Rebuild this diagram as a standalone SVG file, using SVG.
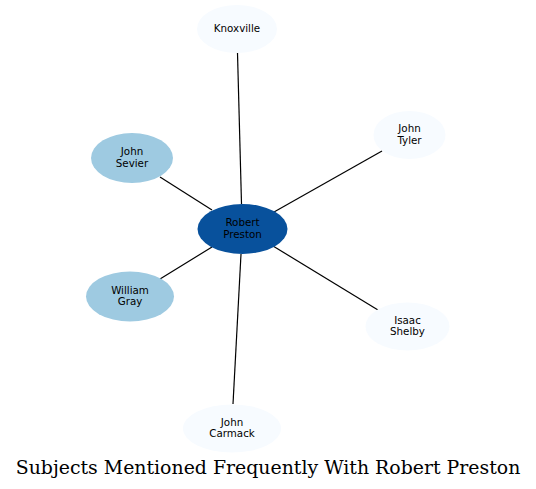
<svg xmlns="http://www.w3.org/2000/svg" width="536" height="489" viewBox="0 0 536 489">
<style>
.n text{font-family:"DejaVu Sans",sans-serif;font-size:10.3px;text-anchor:middle;fill:#000}
.light{fill:#f7fbff}
.mid{fill:#9ecae1}
.dark{fill:#08519c}
.e line{stroke:#000;stroke-width:1.2}
.title{font-family:"DejaVu Serif",serif;font-size:18.9px;text-anchor:middle;fill:#000}
</style>
<rect width="536" height="489" fill="#fff"/>
<g class="e" id="edges">
<line x1="237.5" y1="53" x2="241.5" y2="204"/>
<line x1="382" y1="151" x2="274" y2="212"/>
<line x1="160" y1="177" x2="212" y2="210"/>
<line x1="160" y1="279" x2="212" y2="247"/>
<line x1="378" y1="310" x2="273" y2="246"/>
<line x1="233" y1="404" x2="241" y2="254"/>
</g>
<g class="n" id="robert_preston"><ellipse class="dark" cx="242.5" cy="229" rx="45" ry="25"/><text x="242.5" y="226">Robert</text><text x="242.5" y="237.5">Preston</text></g>
<g class="n" id="knoxville"><ellipse class="light" cx="237" cy="29" rx="40" ry="24"/><text x="237" y="32">Knoxville</text></g>
<g class="n" id="john_tyler"><ellipse class="light" cx="409.5" cy="135" rx="36" ry="24"/><text x="409.5" y="132">John</text><text x="409.5" y="143.5">Tyler</text></g>
<g class="n" id="john_sevier"><ellipse class="mid" cx="132" cy="158" rx="41" ry="25"/><text x="132" y="155">John</text><text x="132" y="166.5">Sevier</text></g>
<g class="n" id="william_gray"><ellipse class="mid" cx="130" cy="296.5" rx="44" ry="25"/><text x="130" y="293.5">William</text><text x="130" y="305">Gray</text></g>
<g class="n" id="isaac_shelby"><ellipse class="light" cx="407.5" cy="326.5" rx="42" ry="24"/><text x="407.5" y="323.5">Isaac</text><text x="407.5" y="335">Shelby</text></g>
<g class="n" id="john_carmack"><ellipse class="light" cx="232" cy="428.5" rx="49" ry="24"/><text x="232" y="425.5">John</text><text x="232" y="437">Carmack</text></g>
<text class="title" x="268" y="474">Subjects Mentioned Frequently With Robert Preston</text>
</svg>
